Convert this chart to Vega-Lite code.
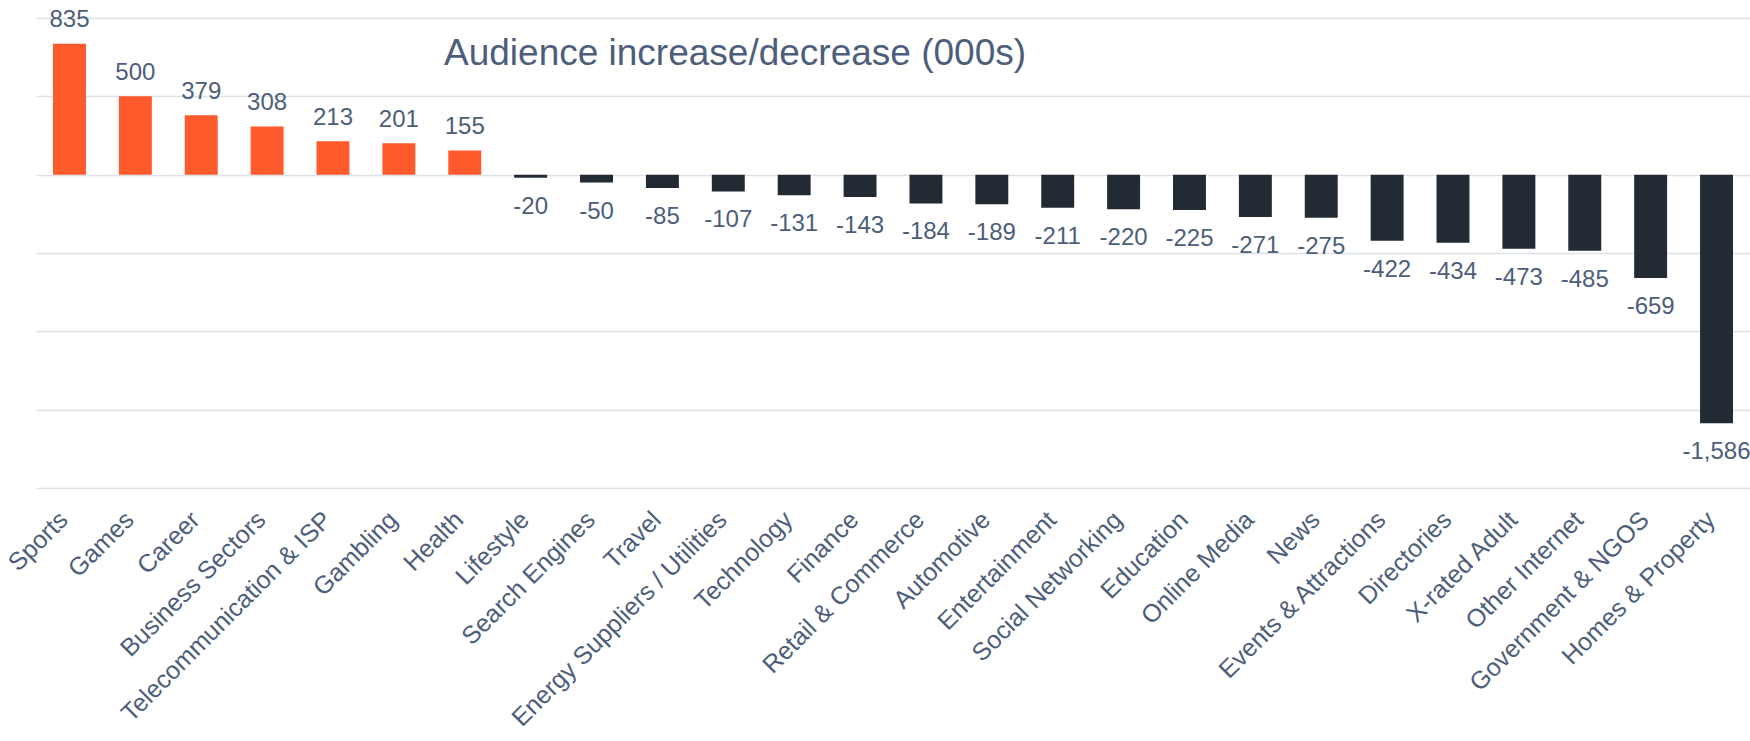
{
  "$schema": "https://vega.github.io/schema/vega-lite/v6.json",
  "autosize": {"type": "none"},
  "width": 1714,
  "height": 470,
  "padding": {"left": 36, "top": 18, "right": 0, "bottom": 253},
  "background": "white",
  "config": {
    "font": "Liberation Sans",
    "view": {"stroke": null},
    "locale": {"number": {"decimal": ".", "thousands": ",", "grouping": [3], "currency": ["$", ""], "minus": "-"}}
  },
  "title": {
    "text": "Audience increase/decrease (000s)",
    "anchor": "start",
    "frame": "group",
    "orient": "top",
    "offset": 0,
    "dx": 408,
    "dy": 94,
    "baseline": "alphabetic",
    "fontSize": 37,
    "fontWeight": "normal",
    "color": "#4D5E7A",
    "font": "Liberation Sans"
  },
  "data": {
    "values": [
      {"category": "Sports", "value": 835},
      {"category": "Games", "value": 500},
      {"category": "Career", "value": 379},
      {"category": "Business Sectors", "value": 308},
      {"category": "Telecommunication & ISP", "value": 213},
      {"category": "Gambling", "value": 201},
      {"category": "Health", "value": 155},
      {"category": "Lifestyle", "value": -20},
      {"category": "Search Engines", "value": -50},
      {"category": "Travel", "value": -85},
      {"category": "Energy Suppliers / Utilities", "value": -107},
      {"category": "Technology", "value": -131},
      {"category": "Finance", "value": -143},
      {"category": "Retail & Commerce", "value": -184},
      {"category": "Automotive", "value": -189},
      {"category": "Entertainment", "value": -211},
      {"category": "Social Networking", "value": -220},
      {"category": "Education", "value": -225},
      {"category": "Online Media", "value": -271},
      {"category": "News", "value": -275},
      {"category": "Events & Attractions", "value": -422},
      {"category": "Directories", "value": -434},
      {"category": "X-rated Adult", "value": -473},
      {"category": "Other Internet", "value": -485},
      {"category": "Government & NGOS", "value": -659},
      {"category": "Homes & Property", "value": -1586}
    ]
  },
  "encoding": {
    "x": {
      "field": "category",
      "type": "nominal",
      "sort": null,
      "scale": {"paddingInner": 0.5, "paddingOuter": 0.258},
      "axis": {
        "title": null,
        "labelAngle": -45,
        "labelAlign": "right",
        "labelBaseline": "alphabetic",
        "labelFontSize": 25,
        "labelColor": "#4D5E7A",
        "labelFont": "Liberation Sans",
        "ticks": false,
        "domain": false,
        "labelPadding": 33,
        "labelOverlap": false,
        "labelLimit": 0
      }
    },
    "y": {
      "field": "value",
      "type": "quantitative",
      "scale": {"domain": [-2000, 1000], "nice": false, "zero": true},
      "axis": {
        "title": null,
        "labels": false,
        "ticks": false,
        "domain": false,
        "values": [-2000, -1500, -1000, -500, 0, 500, 1000],
        "grid": true,
        "gridColor": "#DCE1EA",
        "gridWidth": 1.5
      }
    }
  },
  "layer": [
    {
      "mark": {"type": "bar"},
      "encoding": {
        "color": {"condition": {"test": "datum.value > 0", "value": "#FF5A2C"}, "value": "#222A33"}
      }
    },
    {
      "transform": [{"filter": "datum.value > 0"}],
      "mark": {"type": "text", "baseline": "alphabetic", "dy": -16.5, "fontSize": 24, "color": "#4D5E7A", "font": "Liberation Sans"},
      "encoding": {"text": {"field": "value", "type": "quantitative", "format": ",d"}}
    },
    {
      "transform": [{"filter": "datum.value < 0"}],
      "mark": {"type": "text", "baseline": "alphabetic", "dy": 36, "fontSize": 24, "color": "#4D5E7A", "font": "Liberation Sans"},
      "encoding": {"text": {"field": "value", "type": "quantitative", "format": ",d"}}
    }
  ]
}
